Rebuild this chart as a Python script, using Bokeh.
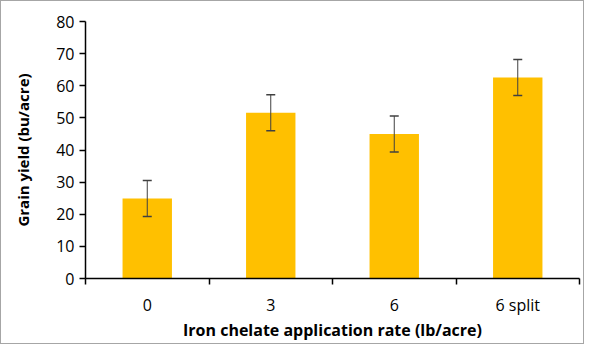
from bokeh.plotting import figure
from bokeh.models import ColumnDataSource, Whisker, FixedTicker, TeeHead, Range1d
from bokeh.embed import file_html
from bokeh.resources import INLINE

categories = ["0", "3", "6", "6 split"]
yield_means = [24.9, 51.6, 45.0, 62.6]
yield_err = [5.6, 5.6, 5.6, 5.6]
y_ticks = [0, 10, 20, 30, 40, 50, 60, 70, 80]

xpos = [i + 0.5 for i in range(len(categories))]
src = ColumnDataSource(dict(
    x=xpos,
    top=yield_means,
    upper=[m + e for m, e in zip(yield_means, yield_err)],
    lower=[m - e for m, e in zip(yield_means, yield_err)],
))

p = figure(width=582, height=342, output_backend="svg", toolbar_location=None,
           x_range=Range1d(0, len(categories)), y_range=Range1d(0, 80),
           min_border_left=84, min_border_right=6, min_border_top=20, min_border_bottom=67)
p.styles = {"border": "1px solid #a6a6a6", "box-sizing": "content-box"}
p.outline_line_color = None
p.xgrid.visible = False
p.ygrid.visible = False

p.vbar(x="x", top="top", width=0.4, bottom=0, source=src,
       fill_color="#FFC000", line_color=None)

w = Whisker(base="x", upper="upper", lower="lower", source=src, level="overlay",
            line_color="#404040", line_width=1,
            upper_head=TeeHead(size=9, line_color="#404040", line_width=1.5),
            lower_head=TeeHead(size=9, line_color="#404040", line_width=1.5))
p.add_layout(w)

font = "Open Sans"
p.yaxis.ticker = FixedTicker(ticks=y_ticks)
p.yaxis.axis_label = "Grain yield (bu/acre)"
p.xaxis.ticker = FixedTicker(ticks=xpos, minor_ticks=list(range(len(categories) + 1)))
p.xaxis.major_label_overrides = {x: c for x, c in zip(xpos, categories)}
p.xaxis.axis_label = "Iron chelate application rate (lb/acre)"

for ax in (p.xaxis, p.yaxis):
    ax.axis_line_color = "black"
    ax.axis_line_width = 1.5
    ax.major_label_text_font = font
    ax.major_label_text_font_size = "16px"
    ax.major_label_text_color = "black"
    ax.axis_label_text_font = font
    ax.axis_label_text_font_style = "bold"
    ax.axis_label_text_color = "black"

p.xaxis.axis_label_text_font_size = "16px"
p.yaxis.axis_label_text_font_size = "15px"

p.yaxis.major_tick_out = 6
p.yaxis.major_tick_in = 0
p.yaxis.major_tick_line_color = "black"
p.yaxis.major_tick_line_width = 1.5
p.yaxis.minor_tick_line_color = None
p.yaxis.major_label_standoff = 5
p.yaxis.axis_label_standoff = 20

p.xaxis.major_tick_out = 0
p.xaxis.major_tick_in = 0
p.xaxis.major_tick_line_color = None
p.xaxis.minor_tick_out = 6
p.xaxis.minor_tick_in = 0
p.xaxis.minor_tick_line_color = "black"
p.xaxis.minor_tick_line_width = 1.5
p.xaxis.major_label_standoff = 9
p.xaxis.axis_label_standoff = 0

open("out.html", "w").write(file_html(p, INLINE))
